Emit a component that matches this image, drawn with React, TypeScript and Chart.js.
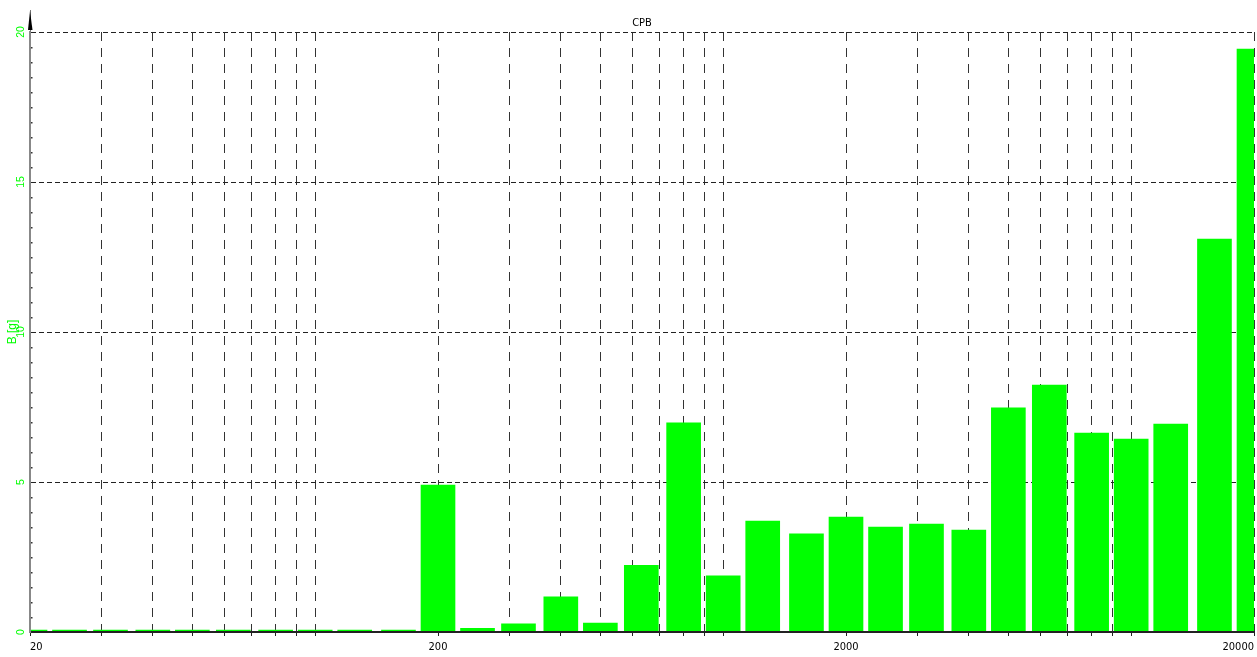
import { useEffect, useRef } from 'react';
import { Chart, registerables } from 'chart.js';

Chart.register(...registerables);

// 1/3-octave band centre frequencies (Hz)
const bands = [
  20, 25, 31.5, 40, 50, 63, 80, 100, 125, 160,
  200, 250, 315, 400, 500, 630, 800, 1000, 1250, 1600,
  2000, 2500, 3150, 4000, 5000, 6300, 8000, 10000, 12500, 16000, 20000,
];
// band levels B [g]
const levels = [
  0.06, 0.06, 0.06, 0.06, 0.06, 0.06, 0.06, 0.06, 0.06, 0.06,
  4.9, 0.12, 0.27, 1.17, 0.3, 2.22, 6.97, 1.87, 3.7, 3.27,
  3.83, 3.5, 3.6, 3.4, 7.47, 8.23, 6.63, 6.43, 6.93, 13.1, 19.43,
];
const xLabels = [20, 200, 2000, 20000];
const yTicks = [0, 5, 10, 15, 20];
const yMinorStep = 0.5;
const chartTitle = 'CPB';
const yTitle = 'B [g]';

const NARROW = "'Liberation Sans Narrow', 'DejaVu Sans Condensed', 'Liberation Sans', sans-serif";
const SANS = "'Liberation Sans', 'DejaVu Sans', sans-serif";
const GREEN = '#00ff00';

export default function App() {
  const ref = useRef<HTMLCanvasElement>(null);

  useEffect(() => {
    document.body.style.margin = '0';
    const canvas = ref.current;
    if (!canvas) return;

    const decor = {
      id: 'decor',
      afterDraw(chart: any) {
        const { ctx, chartArea: a, scales } = chart;
        const y = scales.y;
        ctx.save();
        // title
        ctx.fillStyle = '#000';
        ctx.font = `11px ${NARROW}`;
        ctx.textAlign = 'center';
        ctx.textBaseline = 'alphabetic';
        ctx.fillText(chartTitle, (a.left + a.right) / 2, a.top - 6);
        // minor ticks on the y axis
        ctx.fillStyle = '#333';
        const lo = yTicks[0];
        const hi = yTicks[yTicks.length - 1];
        for (let v = lo + yMinorStep; v < hi; v += yMinorStep) {
          if (yTicks.includes(v)) continue;
          const py = Math.round(y.getPixelForValue(v));
          ctx.fillRect(a.left + 1, py, 1.5, 1.5);
        }
        // axis arrow above the plot
        ctx.strokeStyle = '#777';
        ctx.lineWidth = 1;
        ctx.beginPath();
        ctx.moveTo(a.left + 0.5, a.top);
        ctx.lineTo(a.left + 0.5, a.top - 22);
        ctx.stroke();
        ctx.fillStyle = '#000';
        ctx.beginPath();
        ctx.moveTo(a.left, a.top - 21);
        ctx.lineTo(a.left + 2.5, a.top - 2);
        ctx.lineTo(a.left - 2, a.top - 2);
        ctx.closePath();
        ctx.fill();
        ctx.restore();
      },
    };

    const chart = new Chart(canvas, {
      type: 'bar',
      data: {
        datasets: [
          {
            data: bands.map((f, i) => ({ x: f, y: levels[i] })),
            backgroundColor: GREEN,
            borderWidth: 0,
            barThickness: 34,
            clip: 0,
          } as any,
        ],
      },
      options: {
        animation: false,
        responsive: false,
        layout: { padding: { top: 32, right: 3, left: 0, bottom: 0 } },
        plugins: {
          legend: { display: false },
          tooltip: { enabled: false },
          title: { display: false },
        },
        scales: {
          x: {
            type: 'logarithmic',
            min: 20,
            max: 20000,
            offset: false,
            grid: {
              offset: false,
              color: (c: any) => (c.tick && c.tick.value === 20 ? 'rgba(0,0,0,0)' : '#333'),
              lineWidth: 1,
              drawTicks: true,
              tickLength: 4,
              tickColor: '#222',
              tickWidth: 1,
            },
            border: { display: true, color: '#222', width: 2, dash: [9, 7], z: 1 },
            ticks: {
              autoSkip: false,
              maxRotation: 0,
              minRotation: 0,
              align: 'inner',
              padding: 5,
              color: '#000',
              font: { family: NARROW, size: 11 },
              callback: (v: any) => (xLabels.includes(Number(v)) ? String(v) : ''),
            },
            afterBuildTicks: (s: any) => {
              s.ticks = s.ticks.filter((t: any) => {
                const p = Math.pow(10, Math.floor(Math.log10(t.value) + 1e-9));
                return Math.abs(t.value / p - Math.round(t.value / p)) < 1e-6;
              });
            },
            afterFit: (s: any) => {
              s.height = 25;
              s.paddingLeft = 0;
              s.paddingRight = 0;
            },
          } as any,
          y: {
            min: yTicks[0],
            max: yTicks[yTicks.length - 1],
            ticks: {
              stepSize: 5,
              minRotation: 90,
              maxRotation: 90,
              crossAlign: 'center',
              padding: 3,
              color: GREEN,
              font: { family: SANS, size: 10.5 },
            },
            grid: {
              color: (c: any) => (c.tick && c.tick.value === 0 ? 'rgba(0,0,0,0)' : '#222'),
              lineWidth: 1,
              drawTicks: false,
            },
            border: { display: true, color: '#888', width: 2, dash: [5, 3], z: 1 },
            title: {
              display: true,
              text: yTitle,
              color: GREEN,
              font: { family: SANS, size: 12 },
              padding: { top: 5, bottom: 0 },
            },
            afterFit: (s: any) => {
              s.width = 30;
              s.paddingTop = 0;
              s.paddingBottom = 0;
            },
          } as any,
        },
      },
      plugins: [decor],
    });

    return () => chart.destroy();
  }, []);

  return (
    <div>
      <canvas ref={ref} width={1257} height={657} style={{ display: 'block' }} />
    </div>
  );
}
